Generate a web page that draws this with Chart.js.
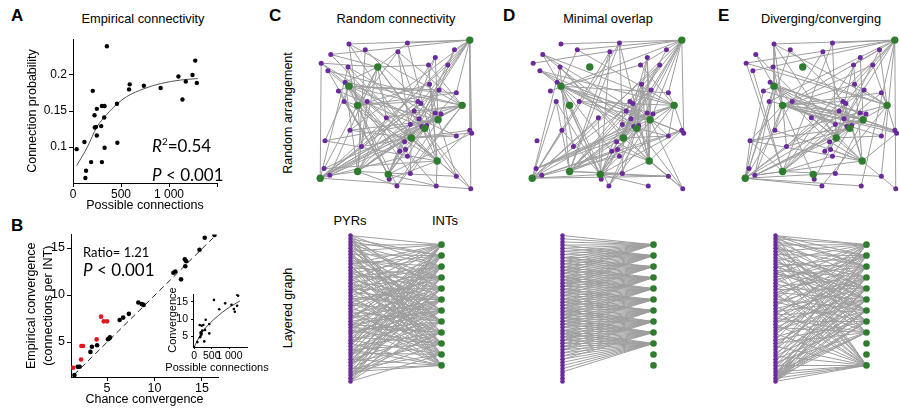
<!DOCTYPE html>
<html>
<head>
<meta charset="utf-8">
<script src="https://cdn.jsdelivr.net/npm/chart.js@4/dist/chart.umd.min.js"></script>
<style>
  html, body { margin: 0; padding: 0; background: #fff; }
  body { width: 899px; height: 413px; position: relative; overflow: hidden;
         font-family: "Liberation Sans", Arial, sans-serif; color: #000; }
  canvas { position: absolute; }
  .t { position: absolute; white-space: nowrap; line-height: 1; }
  .letter { font-weight: bold; font-size: 17px; }
  .ttl { font-size: 12.8px; transform: translateX(-50%); }
  .rot { font-size: 12.5px; transform: translate(-50%, -50%) rotate(-90deg); }
  .cal { font-family: Lato, "Open Sans", sans-serif; }
</style>
</head>
<body>

<div class="t letter" style="left:11px;top:7px">A</div>
<div class="t letter" style="left:11px;top:217px">B</div>
<div class="t letter" style="left:269px;top:7px">C</div>
<div class="t letter" style="left:503px;top:7px">D</div>
<div class="t letter" style="left:718px;top:7px">E</div>

<div class="t ttl" style="left:143px;top:13px">Empirical connectivity</div>
<div class="t ttl" style="left:396px;top:13px">Random connectivity</div>
<div class="t ttl" style="left:608px;top:13px">Minimal overlap</div>
<div class="t ttl" style="left:821px;top:13px">Diverging/converging</div>

<div class="t rot" style="left:288px;top:113px">Random arrangement</div>
<div class="t rot" style="left:288px;top:308px">Layered graph</div>

<div class="t" style="left:350px;top:214px;font-size:13px;transform:translateX(-50%)">PYRs</div>
<div class="t" style="left:445px;top:214px;font-size:13px;transform:translateX(-50%)">INTs</div>

<canvas id="chartA" width="232" height="187" style="left:0;top:28px"></canvas>
<canvas id="chartB" width="232" height="188" style="left:0;top:225px"></canvas>
<canvas id="chartInset" width="105" height="80" style="left:150px;top:285px"></canvas>

<canvas id="topC" width="180" height="180" style="left:305px;top:23px"></canvas>
<canvas id="topD" width="180" height="180" style="left:517px;top:23px"></canvas>
<canvas id="topE" width="180" height="180" style="left:730px;top:23px"></canvas>
<canvas id="layC" width="134" height="167" style="left:329px;top:225px"></canvas>
<canvas id="layD" width="134" height="167" style="left:541px;top:225px"></canvas>
<canvas id="layE" width="134" height="167" style="left:754px;top:225px"></canvas>

<div class="t cal" style="left:152px;top:137px;font-size:17px"><i>R</i><span style="font-size:10px;position:relative;top:-7px">2</span>=0.54</div>
<div class="t cal" style="left:152px;top:166px;font-size:17px"><i>P</i> &lt; 0.001</div>
<div class="t cal" style="left:83px;top:246px;font-size:13px">Ratio= 1.21</div>
<div class="t cal" style="left:83px;top:261px;font-size:17px"><i>P</i> &lt; 0.001</div>

<div class="t" style="left:172px;top:320px;font-size:11px;transform:translate(-50%,-50%) rotate(-90deg)">Convergence</div>
<div class="t" style="left:217px;top:362px;font-size:11px;transform:translateX(-50%)">Possible connections</div>

<script>
// ---- A: empirical connectivity ----
const aPossible = [38, 119, 206, 353, 224, 248, 227, 240, 248, 301, 329, 325, 294, 329, 189, 301, 136, 129, 458, 462,
                   584, 591, 738, 913, 1098, 1140, 1175, 1245, 1273, 1290];
const aProbability = [0.097, 0.107, 0.178, 0.240, 0.144, 0.153, 0.127, 0.128, 0.116, 0.157, 0.157, 0.141, 0.129, 0.099, 0.079, 0.079, 0.067, 0.057, 0.160, 0.106,
                      0.180, 0.187, 0.185, 0.182, 0.198, 0.166, 0.191, 0.200, 0.220, 0.189];
const aFitX = [38, 150, 250, 350, 460, 560, 740, 910, 1120, 1300];
const aFitY = [0.074, 0.100, 0.128, 0.145, 0.160, 0.170, 0.181, 0.188, 0.193, 0.195];
const aXTicks = [0, 500, 1000, 1500];
const aXTickLabels = ['0', '500', '1 000', ''];
const aYTicks = [0.1, 0.15, 0.2];
const aYTickLabels = ['0.1', '0.15', '0.2'];

// ---- B: empirical vs chance convergence ----
const bChanceBlack = [1.56, 1.9, 2.1, 3.25, 3.4, 3.95, 5.1, 5.25, 5.3, 6.33, 6.7, 7.3, 8.3, 8.65, 8.85, 12.0, 12.2, 12.8, 13.2, 13.35, 13.25, 14.75, 15.3, 16.33];
const bEmpBlack    = [1.49, 2.37, 2.37, 3.95, 4.5, 4.65, 5.3, 5.4, 5.5, 7.35, 7.6, 8.0, 9.2, 9.05, 8.95, 12.37, 12.5, 11.67, 13.8, 13.6, 13.07, 14.82, 16.1, 16.4];
const bChanceRed = [1.42, 2.26, 2.3, 2.47, 3.9, 4.37, 4.65, 5.0];
const bEmpRed    = [2.26, 3.14, 4.58, 4.58, 5.28, 7.7, 7.2, 7.2];
const bDiagX = [1.5, 16.2];
const bDiagY = [1.5, 16.1];
const bTicks = [5, 10, 15];
const bTickLabels = ['5', '10', '15'];

// inset
const insetPossible = [0, 93, 169, 189, 189, 217, 234, 197, 161, 217, 262, 330, 310, 290, 431, 431, 563, 713, 882, 1062, 1127, 1155, 1220, 1220, 1248];
const insetConv     = [1.9, 3.4, 4.8, 5.8, 6.2, 5.8, 6.7, 5.3, 8.3, 8.1, 8.3, 9.8, 6.9, 3.6, 5.9, 8.6, 15.5, 12.8, 14.5, 14.1, 12.9, 12.1, 13.8, 17.0, 16.7];
const insetFitX = [0, 100, 250, 400, 550, 700, 900, 1100, 1300];
const insetFitY = [1.9, 4.0, 6.5, 8.3, 9.8, 11.1, 12.7, 14.0, 15.2];
const insetXTicks = [0, 500, 1000];
const insetXTickLabels = ['0', '500', '1 000'];
const insetYTicks = [5, 10, 15];
const insetYTickLabels = ['5', '10', '15'];

// ---- C-E: network (same spatial arrangement in every panel) ----
const pyrX = [37, 8, 26, 105, 118, 50, 79, 54, 120, 149, 133, 165, 90, 87, 18, 15, 56, 110, 149, 11, 164, 127, 121, 112,
              113, 95, 101, 98, 36, 131, 127, 163, 96, 149, 88, 140, 32, 76, 38, 98, 128, 147, 33, 109, 101, 12, 17];
const pyrY = [13, 33, 62, 83, 98, 120, 154, 19, 35, 64, 86, 106, 125, 161, 24, 41, 73, 91, 109, 143, 164, 27, 55, 75,
              99, 115, 148, 12, 37, 61, 85, 103, 123, 151, 21, 35, 73, 90, 103, 130, 161, 19, 53, 73, 97, 114, 150];
const intX = [163, 67, 37, 46, 155, 130, 116, 102, 129, 46, 78, 7];
const intY = [9, 37, 57, 77, 77, 92, 101, 111, 135, 146, 149, 153];
// layered-graph row (top to bottom) -> INT index
const intRow = [0, 2, 4, 5, 6, 7, 8, 9, 11, 10, 1, 3];

// PYR inputs of each layered INT row
const randomLinks = [
  [0, 5, 9, 14, 20, 27, 31, 35, 41, 44, 11, 3, 17, 38],
  [1, 6, 12, 18, 23, 29, 36, 40, 45, 2, 33, 26, 9],
  [3, 8, 13, 19, 24, 30, 37, 42, 46, 15, 26, 0, 34],
  [4, 10, 16, 21, 28, 33, 38, 43, 7, 22, 13, 45],
  [2, 9, 17, 25, 32, 39, 44, 1, 34, 12, 20, 41],
  [5, 11, 18, 26, 34, 41, 0, 14, 29, 38, 20, 46, 31],
  [6, 15, 22, 31, 36, 45, 8, 27, 40, 19, 3, 28],
  [7, 13, 24, 33, 42, 3, 16, 30, 46, 10, 37, 21, 4],
  [10, 20, 28, 35, 43, 4, 17, 23, 39, 1, 29, 44],
  [12, 21, 30, 40, 2, 25, 32, 44, 11, 6, 36, 15],
  [14, 27, 37, 46, 8, 19, 33, 1, 24, 42, 5],
  [16, 25, 34, 43, 5, 13, 28, 36, 42, 9, 22, 39, 0]
];
// minimal overlap: each INT takes a contiguous block of PYRs (first..last)
const overlapFirst = [0, 3, 7, 10, 13, 17, 20, 23, 26, 30, null, null];
const overlapLast  = [12, 16, 19, 23, 26, 29, 33, 36, 39, 43, null, null];
const divergeLinks = [
  [0, 1, 3, 5, 8, 12, 15, 20, 27, 33, 40, 22, 36],
  [0, 2, 6, 10, 14, 19, 25, 30, 38, 44, 46, 17],
  [1, 4, 9, 13, 18, 22, 28, 35, 41, 45, 31, 0],
  [2, 7, 11, 16, 21, 26, 31, 36, 42, 46, 44, 24],
  [3, 5, 10, 17, 23, 29, 34, 39, 43, 45, 46, 12],
  [0, 6, 12, 18, 24, 30, 37, 41, 44, 46, 8, 27],
  [4, 8, 14, 20, 25, 32, 38, 42, 45, 46, 43, 11],
  [1, 9, 15, 21, 27, 33, 39, 44, 45, 46, 3],
  [2, 7, 13, 19, 26, 34, 40, 43, 44, 45, 29],
  [],
  [],
  [0, 3, 5, 9, 11, 16, 22, 28, 35, 41, 43, 44, 45, 46, 31, 24, 38, 18]
];

const SANS = '"Liberation Sans", Arial, sans-serif';
const PURPLE = '#6a2a9c';
const GREEN = '#2e7d2e';
const EDGE = '#9d9d9d';
const RED = '#e8141c';

function pts(xs, ys) { return xs.map((x, i) => ({x: x, y: ys[i]})); }

function baseOptions(padding, scales) {
  return {
    responsive: false, animation: false, devicePixelRatio: 1, events: [],
    layout: {padding: padding},
    plugins: {legend: {display: false}, tooltip: {enabled: false}},
    scales: scales
  };
}

function sciAxis(o) {
  return {
    type: 'linear', position: o.position, min: o.min, max: o.max,
    afterBuildTicks: s => { s.ticks = o.ticks.map(v => ({value: v})); },
    afterFit: s => { if (o.position === 'bottom') s.height = o.size; else s.width = o.size; },
    grid: {drawOnChartArea: false, drawTicks: true, tickLength: o.tickLength, color: '#000', lineWidth: 1},
    border: {display: true, color: '#000', width: 1},
    ticks: {color: '#000', padding: o.padding, maxRotation: 0, autoSkip: false,
            font: {family: SANS, size: o.fontSize},
            callback: (v, i) => o.labels[i]},
    title: o.title ? {display: true, text: o.title, color: '#000', padding: o.titlePadding,
                      font: {family: SANS, size: 12.5, lineHeight: o.titleLineHeight || 1.2}}
                   : {display: false}
  };
}

function dots(data, color, r) {
  return {data: data, showLine: false, pointRadius: r, pointBackgroundColor: color,
          pointBorderWidth: 0, pointHoverRadius: r};
}

// Panel A
new Chart(document.getElementById('chartA'), {
  type: 'line',
  data: {datasets: [
    dots(pts(aPossible, aProbability), '#000', 2.2),
    {data: pts(aFitX, aFitY), borderColor: '#555', borderWidth: 1, pointRadius: 0, cubicInterpolationMode: 'monotone'}
  ]},
  options: baseOptions({top: 11, right: 15, left: 0, bottom: 0}, {
    x: sciAxis({position: 'bottom', min: 0, max: 1500, ticks: aXTicks, labels: aXTickLabels, size: 32,
                tickLength: 4, padding: 0, fontSize: 12,
                title: 'Possible connections', titlePadding: {top: 0, bottom: 2}}),
    y: sciAxis({position: 'left', min: 0.05, max: 0.25, ticks: aYTicks, labels: aYTickLabels, size: 73,
                tickLength: 4, padding: 2, fontSize: 12,
                title: 'Connection probability', titlePadding: {top: 25.5, bottom: 0}})
  })
});

// Panel B
new Chart(document.getElementById('chartB'), {
  type: 'line',
  data: {datasets: [
    dots(pts(bChanceRed, bEmpRed), RED, 2.3),
    dots(pts(bChanceBlack, bEmpBlack), '#000', 2.3),
    {data: pts(bDiagX, bDiagY), borderColor: '#222', borderWidth: 1, borderDash: [6, 4], pointRadius: 0}
  ]},
  options: baseOptions({top: 8, right: 14, left: 0, bottom: 0}, {
    x: sciAxis({position: 'bottom', min: 1.2, max: 16.7, ticks: bTicks, labels: bTickLabels, size: 36,
                tickLength: 4, padding: 0, fontSize: 12.5,
                title: 'Chance convergence', titlePadding: {top: 0, bottom: 5.5}}),
    y: sciAxis({position: 'left', min: 1.28, max: 16.44, ticks: bTicks, labels: bTickLabels, size: 71,
                tickLength: 4, padding: 2, fontSize: 12.5,
                title: ['Empirical convergence', '(connections per INT)'], titleLineHeight: 1.3,
                titlePadding: {top: 23.9, bottom: 0}})
  })
});

// Panel B inset
new Chart(document.getElementById('chartInset'), {
  type: 'line',
  data: {datasets: [
    dots(pts(insetPossible, insetConv), '#000', 1.3),
    {data: pts(insetFitX, insetFitY), borderColor: '#333', borderWidth: 0.9, pointRadius: 0, cubicInterpolationMode: 'monotone'}
  ]},
  options: baseOptions({top: 8, right: 8, left: 0, bottom: 0}, {
    x: sciAxis({position: 'bottom', min: -30, max: 1500, ticks: insetXTicks, labels: insetXTickLabels, size: 18,
                tickLength: 2, padding: 1, fontSize: 10.5}),
    y: sciAxis({position: 'left', min: 2.0, max: 17.1, ticks: insetYTicks, labels: insetYTickLabels, size: 43,
                tickLength: 2, padding: 3, fontSize: 10.5})
  })
});

// network helpers
function overlapLinks() {
  return overlapFirst.map((first, r) => {
    const list = [];
    if (first === null) return list;
    for (let p = first; p <= overlapLast[r]; p++) list.push(p);
    return list;
  });
}

function networkTop(id, links) {
  const edges = [];
  links.forEach((list, r) => {
    const g = intRow[r];
    list.forEach(p => {
      edges.push({x: pyrX[p], y: pyrY[p]}, {x: intX[g], y: intY[g]}, {x: null, y: null});
    });
  });
  new Chart(document.getElementById(id), {
    type: 'line',
    data: {datasets: [
      Object.assign(dots(pts(intX, intY), GREEN, 3.7), {order: 0}),
      Object.assign(dots(pts(pyrX, pyrY), PURPLE, 2.5), {order: 1}),
      {data: edges, borderColor: EDGE, borderWidth: 1, pointRadius: 0, spanGaps: false, order: 2}
    ]},
    options: baseOptions(0, {
      x: {type: 'linear', display: false, min: -5, max: 175},
      y: {type: 'linear', display: false, min: -5, max: 175, reverse: true}
    })
  });
}

// layered graph: PYRs stacked in column x=0, INTs in column x=1 (y as fraction of PYR column)
const INT_TOP = 0.062, INT_STEP = 0.0753;
function pyrLevel(i) { return i / (pyrX.length - 1); }
function intLevel(r) { return INT_TOP + r * INT_STEP; }

function layered(id, links) {
  const edges = [];
  links.forEach((list, r) => {
    list.forEach(p => {
      edges.push({x: 0, y: pyrLevel(p)}, {x: 1, y: intLevel(r)}, {x: null, y: null});
    });
  });
  const pyrCol = pyrX.map((_, i) => ({x: 0, y: pyrLevel(i)}));
  const intCol = intRow.map((_, r) => ({x: 1, y: intLevel(r)}));
  new Chart(document.getElementById(id), {
    type: 'line',
    data: {datasets: [
      Object.assign(dots(intCol, GREEN, 3.3), {order: 0}),
      Object.assign(dots(pyrCol, PURPLE, 2.3), {order: 1}),
      {data: edges, borderColor: EDGE, borderWidth: 1, pointRadius: 0, spanGaps: false, order: 2}
    ]},
    options: baseOptions(0, {
      x: {type: 'linear', display: false, min: -0.2, max: 1.2},
      y: {type: 'linear', display: false, min: -0.05, max: 1.05, reverse: true}
    })
  });
}

networkTop('topC', randomLinks);
networkTop('topD', overlapLinks());
networkTop('topE', divergeLinks);
layered('layC', randomLinks);
layered('layD', overlapLinks());
layered('layE', divergeLinks);
</script>
</body>
</html>
